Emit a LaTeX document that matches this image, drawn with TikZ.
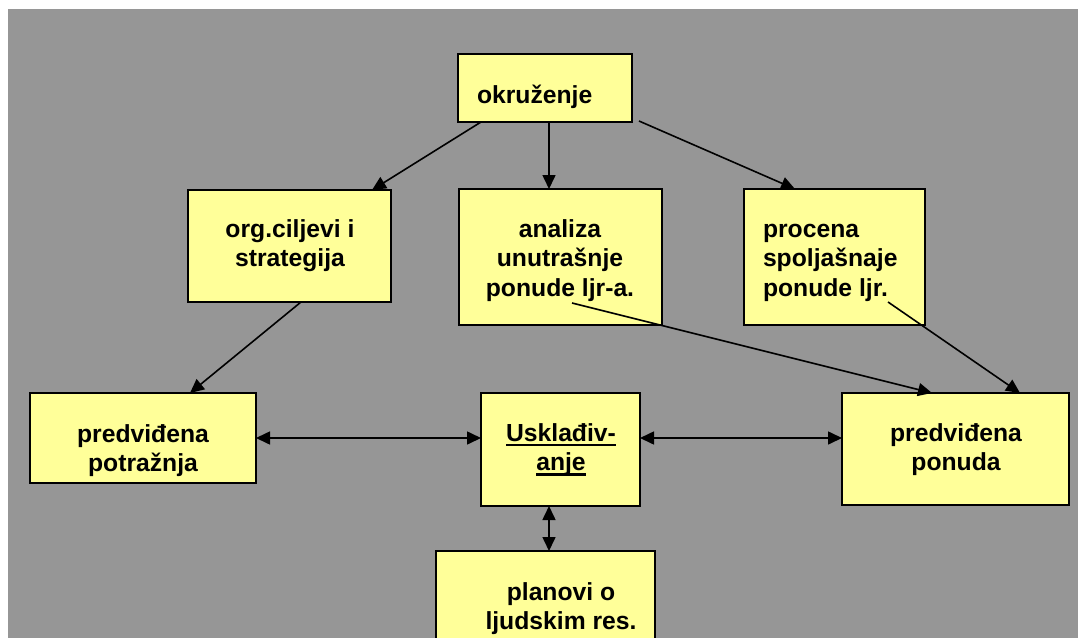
\documentclass[tikz,border=0pt]{standalone}
\usepackage{fontspec}
\setmainfont{Liberation Sans}
\usetikzlibrary{arrows.meta,calc}
\definecolor{bggray}{RGB}{150,150,150}
\definecolor{boxyellow}{RGB}{255,255,153}
\newcommand\ulline[1]{\setbox0\hbox{#1}\rlap{\rule[-5pt]{\wd0}{2.5pt}}\box0}
\begin{document}
\begin{tikzpicture}[x=1pt,y=-1pt,
  box/.style={draw=black,line width=1.8pt,fill=boxyellow,inner sep=0pt,outer sep=0pt},
  lbl/.style={font=\bfseries\fontsize{24.7}{29.5}\selectfont,inner sep=0pt,outer sep=0pt,align=center,anchor=north},
  lbll/.style={lbl,align=left,anchor=north west},
  conn/.style={line width=1.6pt,-{Triangle[length=14pt,width=13pt]}},
  dconn/.style={line width=1.6pt,{Triangle[length=14pt,width=13pt]}-{Triangle[length=14pt,width=13pt]}}]
\useasboundingbox (0,0) rectangle (1078,637);
\clip (0,0) rectangle (1078,637);
\fill[bggray] (8,9) rectangle (1080,640);
% boxes
\node[box,minimum width=174pt,minimum height=68pt] (okr) at (545,88) {};
\node[box,minimum width=203pt,minimum height=112pt] (org) at (289.5,246) {};
\node[box,minimum width=203pt,minimum height=136pt] (ana) at (560.5,257) {};
\node[box,minimum width=181pt,minimum height=136pt] (pro) at (834.5,257) {};
\node[box,minimum width=226pt,minimum height=90pt] (pot) at (143,438) {};
\node[box,minimum width=159pt,minimum height=113pt] (usk) at (560.5,449.5) {};
\node[box,minimum width=227pt,minimum height=112pt] (pon) at (955.5,449) {};
\node[box,minimum width=219pt,minimum height=120pt] (plan) at (545.5,611) {};
% texts
\node[lbll] (okrT) at (477,82.35) {\strut okruženje};
\node[lbl] (orgT) at (290,216.35) {\strut org.ciljevi i\\\strut strategija};
\node[lbl] (anaT) at (560,216.35) {\strut analiza\\\strut unutrašnje\\\strut ponude ljr-a.};
\node[lbll] (proT) at (763,216.35) {\strut procena\\\strut spoljašnaje\\\strut ponude ljr.};
\node[lbl] (potT) at (143,421.35) {\strut predviđena\\\strut potražnja};
\node[lbl] (uskT) at (561,420.35) {\strut\ulline{Usklađiv-}\\\strut\ulline{anje}};
\node[lbl] (ponT) at (956,420.35) {\strut predviđena\\\strut ponuda};
\node[lbl] (planT) at (561,579.35) {\strut planovi o\\\strut ljudskim res.};
% connectors
\draw[conn] ($(okr.south west)+(23,0)$) -- ($(org.north east)+(-19,0)$);
\draw[conn] ($(okr.south)+(4,0)$) -- ($(ana.north)+(-11.5,0)$);
\draw[conn] ($(okr.south east)+(7,-1)$) -- ($(pro.north)+(-39.5,0)$);
\draw[conn] ($(org.south)+(11.5,0)$) -- ($(pot.north)+(47,0)$);
\coordinate (anaS) at ($(ana.south west)+(113,-22)$);
\coordinate (proS) at ($(pro.south west)+(144,-23)$);
\draw[conn] (anaS) -- ($(pon.north)+(-23.5,0)$);
\draw[conn] (proS) -- ($(pon.north east)+(-49,0)$);
\draw[dconn] (pot.east) -- (pot.east -| usk.west);
\draw[dconn] (pot.east -| usk.east) -- (pot.east -| pon.west);
\draw[dconn] ($(usk.south)+(-11.5,0)$) -- ($(plan.north)+(3.5,0)$);
\end{tikzpicture}
\end{document}
